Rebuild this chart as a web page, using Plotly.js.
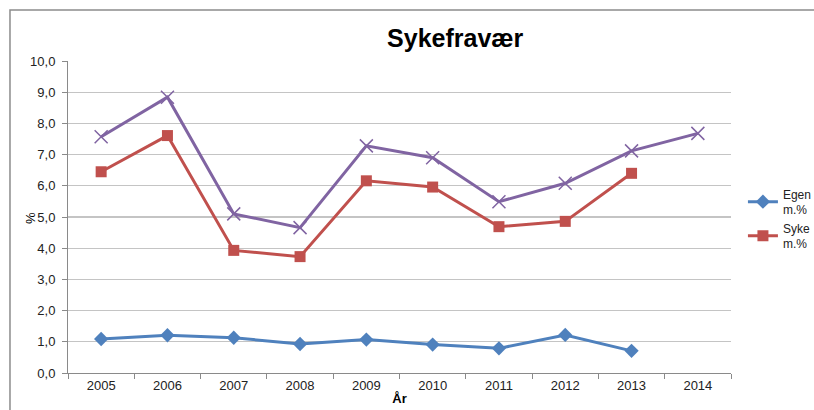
<!DOCTYPE html>
<html>
<head>
<meta charset="utf-8">
<script src="https://cdn.plot.ly/plotly-3.0.1.min.js"></script>
<style>html,body{margin:0;padding:0;background:#fff;overflow:hidden;}#chart{width:814px;height:410px;}</style>
</head>
<body>
<div id="chart"></div>
<script>
var years = ["2005","2006","2007","2008","2009","2010","2011","2012","2013","2014"];
var egenmeldt = [1.09, 1.21, 1.13, 0.93, 1.07, 0.91, 0.79, 1.22, 0.71, null];
var sykemeldt = [6.45, 7.61, 3.93, 3.73, 6.16, 5.96, 4.69, 4.86, 6.40, null];
var totalt = [7.57, 8.84, 5.10, 4.66, 7.28, 6.90, 5.49, 6.08, 7.12, 7.68];
var yTicks = [0,1,2,3,4,5,6,7,8,9,10];
var legendNames = ["Egen<br>m.%", "Syke<br>m.%", "Totalt m.%"];

var traces = [
  {x: years, y: egenmeldt, name: legendNames[0], type: "scatter", mode: "lines+markers",
   line: {color: "#4F81BD", width: 3}, marker: {symbol: "diamond", size: 11, color: "#4F81BD"}},
  {x: years, y: sykemeldt, name: legendNames[1], type: "scatter", mode: "lines+markers",
   line: {color: "#C0504D", width: 3}, marker: {symbol: "square", size: 11, color: "#C0504D"}},
  {x: years, y: totalt, name: legendNames[2], type: "scatter", mode: "lines+markers", showlegend: false,
   line: {color: "#8064A2", width: 3}, marker: {symbol: "x-thin-open", size: 13, line: {color: "#8064A2", width: 1.5}, color: "#8064A2"}}
];

var layout = {
  width: 814, height: 410,
  margin: {l: 68, r: 83, t: 61, b: 37, pad: 0, autoexpand: false},
  paper_bgcolor: "#fff", plot_bgcolor: "#fff",
  separators: ", ",
  font: {family: "Liberation Sans, Arial, sans-serif", size: 13, color: "#222"},
  title: {text: "<b>Sykefravær</b>", font: {size: 25, color: "#000", family: "Liberation Sans, Arial, sans-serif"},
          x: 0.584, xref: "paper", xanchor: "center", y: 0.907, yref: "container", yanchor: "middle"},
  xaxis: {type: "category", range: [-0.5, 9.5], showgrid: false, showline: true, linecolor: "#8a8a8a", linewidth: 1,
          ticks: "outside", tickson: "boundaries", ticklen: 5, tickcolor: "#8a8a8a",
          tickfont: {size: 13, color: "#222"}, zeroline: false, automargin: false,
          title: {text: "<b>År</b>", font: {size: 13, color: "#000"}, standoff: 2}},
  yaxis: {range: [0, 10], tickvals: yTicks, tickformat: ".1f", showgrid: true, gridcolor: "#c4c4c4", gridwidth: 1.3,
          showline: true, linecolor: "#8a8a8a", linewidth: 1, ticks: "outside", ticklen: 5, tickcolor: "#8a8a8a",
          ticklabelstandoff: 4, automargin: false,
          tickfont: {size: 13, color: "#222"}, zeroline: false},
  showlegend: true,
  legend: {x: 1.018, xanchor: "left", y: 0.62, yanchor: "top", font: {size: 12, color: "#222"},
           bgcolor: "rgba(0,0,0,0)", tracegroupgap: 0, itemwidth: 30},
  annotations: [
    {text: "%", xref: "paper", yref: "paper", x: (30-68)/663, y: (373-218)/312, showarrow: false,
     textangle: -90, font: {size: 13, color: "#000"}, xanchor: "center", yanchor: "middle"}
  ],
  shapes: [
    {type: "path", xref: "paper", yref: "paper",
     path: "M 1.14 1.1635 L -0.0875 1.1635 L -0.0875 -0.14",
     line: {color: "#8c8c8c", width: 1.5}}
  ]
};

Plotly.newPlot("chart", traces, layout, {displayModeBar: false, staticPlot: true});
</script>
</body>
</html>
